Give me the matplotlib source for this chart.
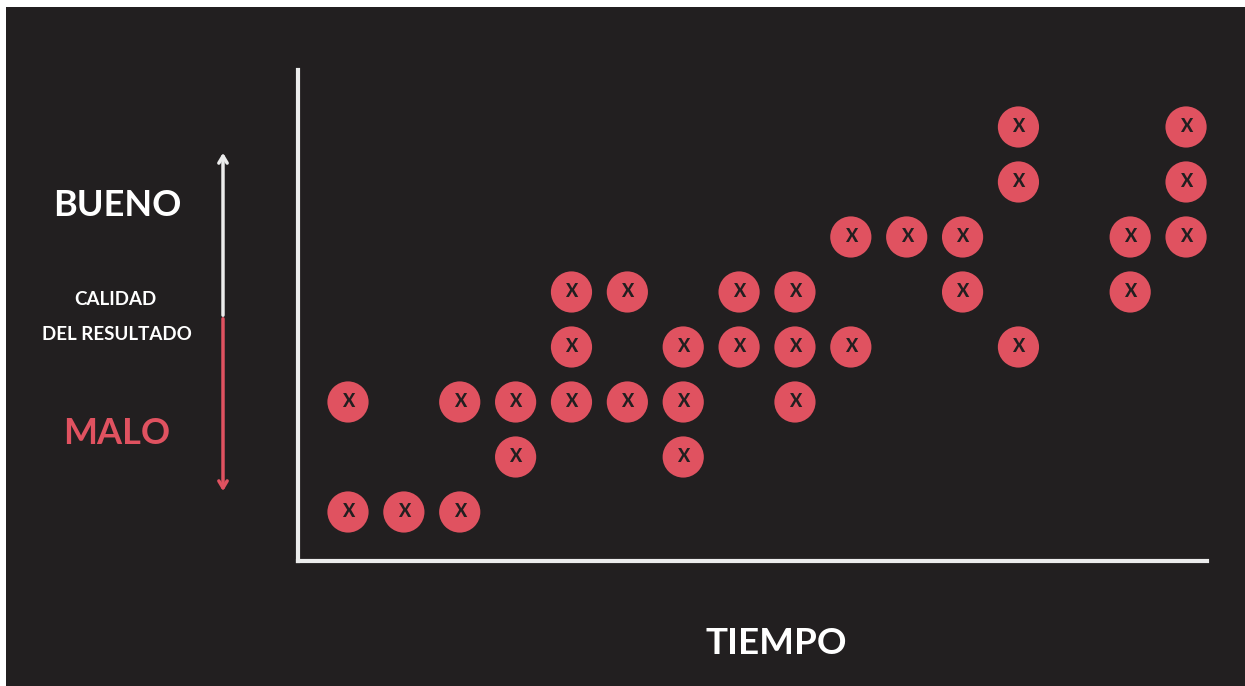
import matplotlib.pyplot as plt
from matplotlib.patches import Rectangle, FancyArrowPatch

# 列ごとの「X」の位置（0が一番下の段）
columns = list(range(16))
rows_per_column = [
    [0, 2],
    [0],
    [0, 2],
    [1, 2],
    [2, 3, 4],
    [2, 4],
    [1, 2, 3],
    [3, 4],
    [2, 3, 4],
    [3, 5],
    [5],
    [4, 5],
    [3, 6, 7],
    [],
    [4, 5],
    [5, 6, 7],
]

# テキスト
label_good = "BUENO"
label_bad = "MALO"
label_quality = ["CALIDAD", "DEL RESULTADO"]
label_time = "TIEMPO"

bg = "#221f20"
red = "#e05260"
line_col = "#ececec"

W, H = 1245, 686
fig = plt.figure(figsize=(W / 100, H / 100), dpi=100, facecolor="white")

# 背景（左と上に白い余白）
fig.patches.append(Rectangle((6 / W, 0), 1, (H - 7) / H, transform=fig.transFigure,
                             facecolor=bg, edgecolor="none", zorder=-1))

# メインの軸
ax = fig.add_axes([298 / W, (H - 561) / H, (1207 - 298) / W, (561 - 70) / H])
ax.set_zorder(2)
ax.set_facecolor("none")
ax.set_xlim(-0.895, 15.375)
ax.set_ylim(-0.891, 8.036)
for side in ["top", "right"]:
    ax.spines[side].set_visible(False)
for side in ["left", "bottom"]:
    ax.spines[side].set_color(line_col)
    ax.spines[side].set_linewidth(3)
ax.set_xticks([])
ax.set_yticks([])

xs, ys = [], []
for c, rows in zip(columns, rows_per_column):
    for r in rows:
        xs.append(c)
        ys.append(r)

ax.scatter(xs, ys, s=880, color=red, edgecolors="none", zorder=3)
for x, y in zip(xs, ys):
    ax.text(x, y, "X", color=bg, fontsize=13, fontweight="black", family="Lato",
            ha="center", va="center", zorder=4)

# 左側の矢印（上は白、下は赤）
def fig_xy(px, py):
    return (px / W, 1 - py / H)

fig.add_artist(FancyArrowPatch(
    fig_xy(223, 318), fig_xy(223, 150), transform=fig.transFigure,
    arrowstyle="->,head_length=5,head_width=3", color=line_col, lw=2.5, zorder=3))
fig.add_artist(FancyArrowPatch(
    fig_xy(223, 316), fig_xy(223, 494), transform=fig.transFigure,
    arrowstyle="->,head_length=5,head_width=3", color=red, lw=2.5, zorder=3))

# ラベル
fig.text(*fig_xy(117, 206), label_good, color="white", fontsize=26, fontweight="bold",
         family="Lato", ha="center", va="center")
fig.text(*fig_xy(115, 299), label_quality[0], color="white", fontsize=13.5, fontweight="bold",
         family="Lato", ha="center", va="center")
fig.text(*fig_xy(117, 334), label_quality[1], color="white", fontsize=13.5, fontweight="bold",
         family="Lato", ha="center", va="center")
fig.text(*fig_xy(117, 434), label_bad, color=red, fontsize=26, fontweight="bold",
         family="Lato", ha="center", va="center")
fig.text(*fig_xy(776, 644), label_time, color="white", fontsize=26.5, fontweight="bold",
         family="Lato", ha="center", va="center")

plt.savefig("out.png", dpi=100, facecolor="white")
